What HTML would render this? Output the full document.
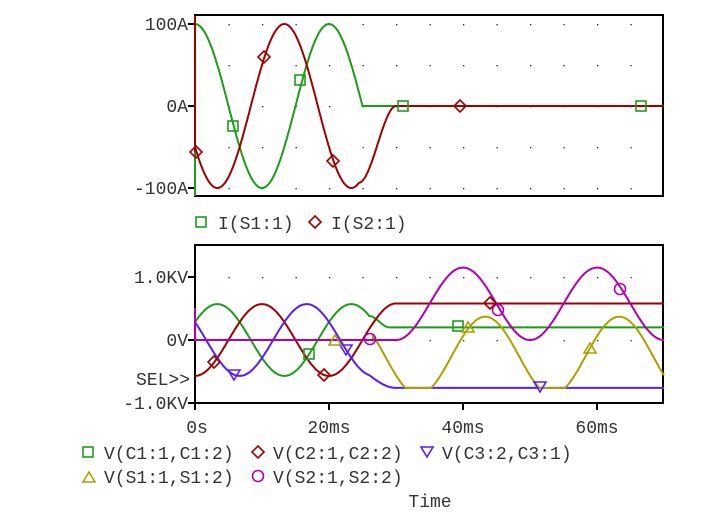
<!DOCTYPE html>
<html><head><meta charset="utf-8"><style>
body{margin:0;background:#fff;width:716px;height:511px;overflow:hidden}
text{font-family:"Liberation Mono","DejaVu Sans Mono",monospace;font-size:18px;fill:#333}
</style></head><body>
<svg id="s" width="716" height="511" xmlns="http://www.w3.org/2000/svg">
<rect x="195" y="15" width="468" height="181" fill="none" stroke="#000" stroke-width="2"/>
<rect x="195" y="245" width="468" height="158" fill="none" stroke="#000" stroke-width="2"/>
<g id="grid"></g>
<g stroke="#000" stroke-width="2">
<line x1="188" y1="24" x2="195" y2="24"/><line x1="188" y1="106" x2="195" y2="106"/><line x1="188" y1="188" x2="195" y2="188"/>
<line x1="188" y1="277" x2="195" y2="277"/><line x1="188" y1="340" x2="195" y2="340"/><line x1="188" y1="403" x2="195" y2="403"/>
<line x1="195" y1="403" x2="195" y2="410"/><line x1="329" y1="403" x2="329" y2="410"/><line x1="463" y1="403" x2="463" y2="410"/><line x1="597" y1="403" x2="597" y2="410"/>
</g>
<g text-anchor="end">
<text x="188" y="30">100A</text><text x="188" y="112">0A</text><text x="188" y="194">-100A</text>
<text x="188" y="283">1.0KV</text><text x="188" y="346">0V</text><text x="188" y="409">-1.0KV</text>
<text x="190" y="385">SEL&gt;&gt;</text>
</g>
<g text-anchor="middle">
<text x="197" y="433">0s</text><text x="329" y="433">20ms</text><text x="463" y="433">40ms</text><text x="597" y="433">60ms</text>
<text x="430" y="507">Time</text>
</g>
<g id="curves" fill="none" stroke-width="2"></g>
<g id="marks" fill="none" stroke-width="1.6"></g>
<g>
<rect x="196" y="217" width="10" height="10" fill="none" stroke="#1a9e1a" stroke-width="1.6"/>
<text x="218" y="229">I(S1:1)</text>
<path d="M315 216l6 6-6 6-6-6z" fill="none" stroke="#a00000" stroke-width="1.6"/>
<text x="331" y="229">I(S2:1)</text>
<rect x="83" y="447" width="10" height="10" fill="none" stroke="#1a9e1a" stroke-width="1.6"/>
<text x="104" y="459">V(C1:1,C1:2)</text>
<path d="M258 446l6 6-6 6-6-6z" fill="none" stroke="#a00000" stroke-width="1.6"/>
<text x="273" y="459">V(C2:1,C2:2)</text>
<path d="M421 447h12l-6 10z" fill="none" stroke="#5a1aff" stroke-width="1.6"/>
<text x="442" y="459">V(C3:2,C3:1)</text>
<path d="M83 482h12l-6-10z" fill="none" stroke="#aaa000" stroke-width="1.6"/>
<text x="104" y="483">V(S1:1,S1:2)</text>
<circle cx="258" cy="476" r="5.5" fill="none" stroke="#b000b0" stroke-width="1.6"/>
<text x="273" y="483">V(S2:1,S2:2)</text>
</g>
</svg>
<script>
const NS="http://www.w3.org/2000/svg";
const X=t=>195+t*6.7;
const w=2*Math.PI/20, cos=Math.cos;
const YA=v=>106-v*0.82, YV=v=>340-v*63;
const cv=document.getElementById("curves");
function raw(d,col){const p=document.createElementNS(NS,"path");p.setAttribute("d",d);p.setAttribute("stroke",col);cv.appendChild(p);}
function path(f,Y,col,t0=0,t1=70,pre=""){let d=pre;for(let t=t0;t<=t1+1e-9;t+=0.1){d+=(d?"L":"M")+X(t).toFixed(1)+" "+Y(f(t)).toFixed(1);}raw(d,col);}
const g=document.getElementById("grid");
for(let t=5;t<70;t+=5){for(const y of [24,65,106,147,188,277,340]){const c=document.createElementNS(NS,"rect");c.setAttribute("x",X(t));c.setAttribute("y",y);c.setAttribute("width",1.3);c.setAttribute("height",1.3);c.setAttribute("fill","#222");g.appendChild(c);}}
const G="#1a9e1a",R="#a00000",B="#5a1aff",Yl="#aaa000",P="#b000b0";
const sm=s=>s*s*(3-2*s);
// top
path(t=>t<25?100*cos(w*t):0,YA,G,0,70,"M195 196L195 152");
path(t=>{if(t<24.5)return -100*cos(w*(t-3.333));const a=-100*cos(w*(21.167));if(t<30)return a*(1-sm((t-24.5)/5.5));return 0;},YA,R,0,70,"M195 16L195 152");
// bottom
path(t=>{if(t<26)return 0.57*cos(w*(t-3.333));const a=0.57*cos(w*22.667);if(t<29)return a+(0.2-a)*sm((t-26)/3);return 0.2;},YV,G);
path(t=>{if(t<26)return -0.57*cos(w*t);const a=-0.57*cos(w*26);if(t<30)return a+(0.58-a)*Math.sin((t-26)/4*Math.PI/2);return 0.58;},YV,R);
path(t=>{if(t<26)return 0.57*cos(w*(t-16.667));const a=0.57*cos(w*(9.333));if(t<30)return a+(-0.76-a)*Math.sin((t-26)/4*Math.PI/2);return -0.76;},YV,B,0,70,"M195 308");
path(t=>{if(t<26.6)return 0;return Math.max(-0.76,-0.25+0.62*cos(w*(t-43.33)));},YV,Yl);
path(t=>{if(t<30)return 0;return 0.575-0.575*cos(w*(t-30));},YV,P,0,70,"M195 308");
const m=document.getElementById("marks");
function add(s){m.insertAdjacentHTML("beforeend",s);}
const sq=(x,y,c)=>add(`<rect x="${x-5}" y="${y-5}" width="10" height="10" stroke="${c}"/>`);
const di=(x,y,c)=>add(`<path d="M${x} ${y-6}l6 6-6 6-6-6z" stroke="${c}"/>`);
const td=(x,y,c)=>add(`<path d="M${x-6} ${y-5}h12l-6 10z" stroke="${c}"/>`);
const tu=(x,y,c)=>add(`<path d="M${x-6} ${y+5}h12l-6-10z" stroke="${c}"/>`);
const ci=(x,y,c)=>add(`<circle cx="${x}" cy="${y}" r="5.5" stroke="${c}"/>`);
[[233,126],[300,80],[403,106],[641,106]].forEach(p=>sq(p[0],p[1],G));
[[196,152],[264,57],[333,161],[460,106]].forEach(p=>di(p[0],p[1],R));
[[309,354],[458,326]].forEach(p=>sq(p[0],p[1],G));
[[214,362],[324,375],[490,303]].forEach(p=>di(p[0],p[1],R));
[[234,375],[346,350],[540,387]].forEach(p=>td(p[0],p[1],B));
[[335,340],[468,327],[590,348]].forEach(p=>tu(p[0],p[1],Yl));
[[370,339],[498,310],[620,289]].forEach(p=>ci(p[0],p[1],P));
</script>
</body></html>
